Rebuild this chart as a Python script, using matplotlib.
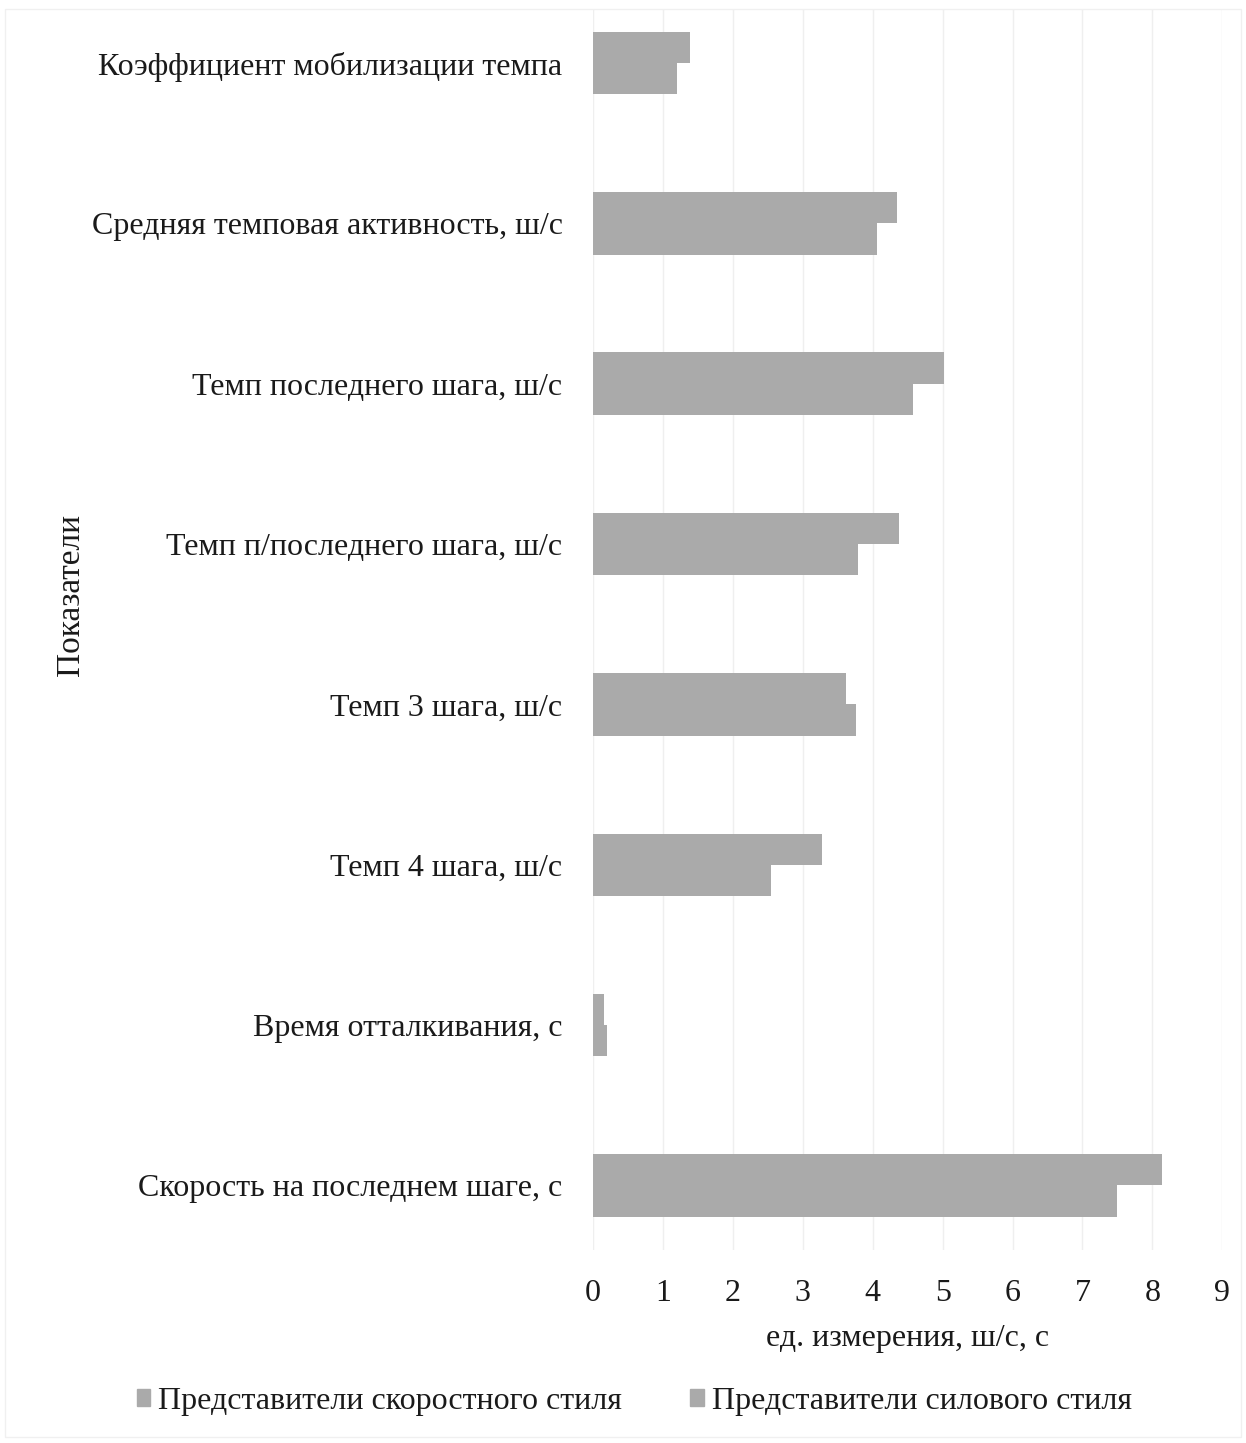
import numpy as np
import matplotlib
matplotlib.use("Agg")
import matplotlib.pyplot as plt
from matplotlib.patches import Rectangle

plt.rcParams['font.family'] = ['Liberation Serif', 'DejaVu Serif']

categories = [
    "Скорость на последнем шаге, с",
    "Время отталкивания, с",
    "Темп 4 шага, ш/с",
    "Темп 3 шага, ш/с",
    "Темп п/последнего шага, ш/с",
    "Темп последнего шага, ш/с",
    "Средняя темповая активность, ш/с",
    "Коэффициент мобилизации темпа",
]
speed_style = [7.5, 0.2, 2.55, 3.76, 3.79, 4.58, 4.06, 1.2]
power_style = [8.14, 0.15, 3.27, 3.62, 4.37, 5.02, 4.34, 1.38]
series_names = ["Представители скоростного стиля", "Представители силового стиля"]
x_ticks = list(range(0, 10))

bar_color = "#aaaaaa"
grid_color = "#efefef"
text_color = "#1a1a1a"
fs = 23

fig = plt.figure(figsize=(12.46, 14.43), dpi=100)
ax = fig.add_axes([0.476, 0.134, 0.505, 0.859])

y = np.arange(len(categories))
h = 0.195
ax.barh(y - h / 2, speed_style, height=h, color=bar_color, label=series_names[0], zorder=2)
ax.barh(y + h / 2, power_style, height=h, color=bar_color, label=series_names[1], zorder=2)

ax.set_xlim(0, 9)
ax.set_ylim(-0.4, 7.33)
ax.set_xticks(x_ticks)
ax.set_xticklabels([str(t) for t in x_ticks])
ax.set_yticks(y)
ax.set_yticklabels(categories)
ax.xaxis.grid(True, color=grid_color, linewidth=1.0, zorder=0)
ax.tick_params(axis='both', length=0, labelsize=fs, colors=text_color)
ax.tick_params(axis='x', pad=21)
ax.tick_params(axis='y', pad=22)
for s in ax.spines.values():
    s.set_visible(False)

ax.set_xlabel("ед. измерения, ш/с, с", fontsize=fs, color=text_color, labelpad=12)
fig.text(0.057, 0.588, "Показатели", rotation=90, fontsize=24,
         color=text_color, ha='center', va='center')

handles = [Rectangle((0, 0), 1, 1, color=bar_color) for _ in series_names]
fig.legend(handles, series_names, loc='center', bbox_to_anchor=(0.509, 0.029),
           ncol=2, frameon=False, fontsize=fs, handlelength=0.42, handleheight=0.42,
           handletextpad=0.25, columnspacing=2.13, labelcolor=text_color)

# faint outer frame of the chart area
fig.add_artist(Rectangle((0.004, 0.004), 0.992, 0.99, transform=fig.transFigure,
                         fill=False, edgecolor="#f0f0f0", linewidth=1.0))

fig.savefig("out.png", dpi=100, facecolor="white")
